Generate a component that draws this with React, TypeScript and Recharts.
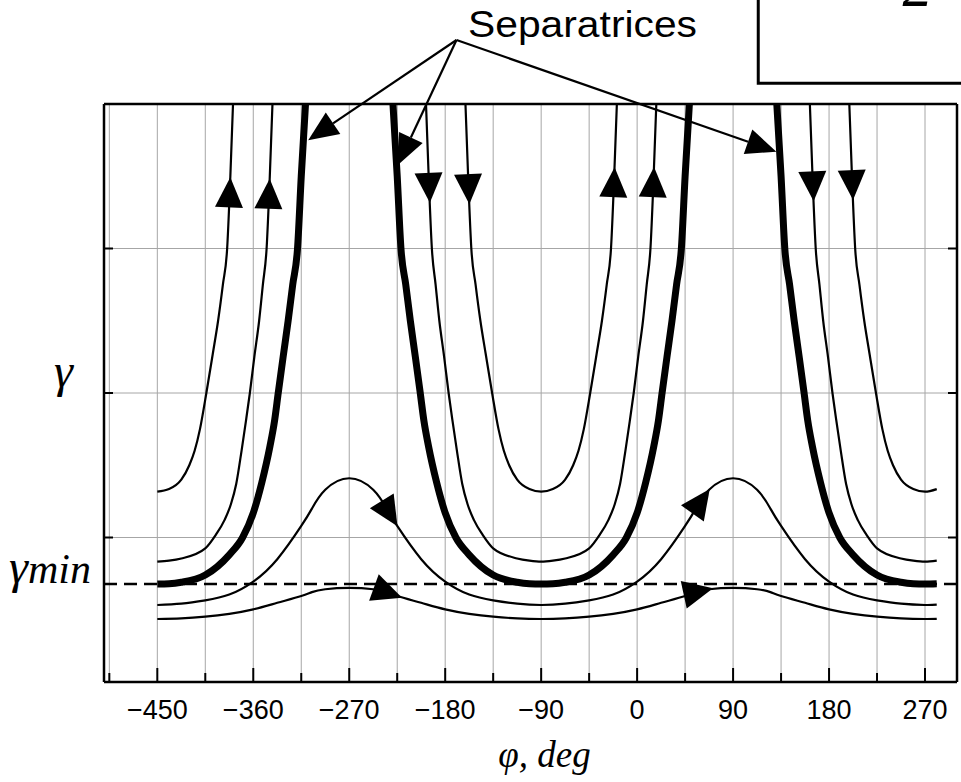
import React from "react";
import {
  ComposedChart,
  Line,
  Scatter,
  XAxis,
  YAxis,
  CartesianGrid,
  ReferenceLine,
  ReferenceArea,
  ReferenceDot,
} from "recharts";

// chart frame (axes take 1px each, so the plot box is 104..957 x 104..682)
const W = 961;
const H = 782;
const MARGIN = { top: 103, right: 3, bottom: 99, left: 103 };
const AXIS_PX = 1;
const X_MIN = -500;
const X_MAX = 300;
const Y_MIN = 0;
const Y_MAX = 4;
const PX_PER_DEG = (W - MARGIN.left - MARGIN.right - 2 * AXIS_PX) / (X_MAX - X_MIN);
const PX_PER_G = (H - MARGIN.top - MARGIN.bottom - 2 * AXIS_PX) / (Y_MAX - Y_MIN);

// axes
const X_TICKS = [-495, -450, -405, -360, -315, -270, -225, -180, -135, -90, -45, 0, 45, 90, 135, 180, 225, 270];
const Y_TICKS = [1, 2, 3];
const GAMMA_MIN = 0.678;

// phase portrait layout (deg)
const PHI_START = -450;
const PHI_END = 281;
const U_CENTERS = [-450, -90, 270];
const HUMP_CENTERS = [-270, 90];

// open trajectories: distance from U centre (deg) -> gamma
const THIN1_D = [0, 11, 22.5, 30, 35, 40, 46, 52, 57, 61.5, 65.5, 68.5, 71];
const THIN1_G = [1.317, 1.335, 1.4, 1.5, 1.6, 1.75, 2.0, 2.27, 2.5, 2.75, 3.0, 3.5, 4.0];
const THIN2_D = [0, 11, 22.5, 45, 55, 63, 69, 74, 79, 83, 86.8, 91, 95.5, 99, 102.5, 105.5, 108];
const THIN2_G = [0.833, 0.84, 0.855, 0.925, 1.02, 1.12, 1.23, 1.37, 1.6, 1.8, 2.0, 2.25, 2.5, 2.75, 3.0, 3.5, 4.0];
// separatrix
const SEP_D = [0, 11, 22.5, 45, 67.5, 80, 90, 98, 105.6, 110, 113.4, 118, 122.7, 127, 131.5, 135, 139];
const SEP_G = [0.678, 0.68, 0.69, 0.74, 0.88, 1.0, 1.17, 1.38, 1.63, 1.81, 2.0, 2.25, 2.5, 2.75, 3.0, 3.5, 4.0];

// closed (oscillating) trajectories: distance from hump centre (deg) -> gamma
const BUMP_D = [0, 22.5, 35, 45, 67.5, 90, 112.5, 135, 157.5, 180];
const B2_G = [1.41, 1.33, 1.2, 1.08, 0.85, 0.695, 0.605, 0.565, 0.542, 0.533];
const B1_G = [0.652, 0.642, 0.622, 0.595, 0.548, 0.503, 0.472, 0.452, 0.44, 0.436];
const B2_END = 0.535;
const B1_END = 0.437;

// flow direction arrows (phi, gamma)
const ARROW_CURVE = ["thin1", "thin2", "thin2", "thin1", "thin1", "thin2", "thin2", "thin1", "b1", "b1", "b2", "b2"];
const ARROW_PHI = [-385.6, -349, -194.3, -158.9, -23.9, 14.6, 164.2, 203.4, -233.3, 57.7, -231.8, 61.1];
const ARROW_G = [3.39, 3.38, 3.42, 3.41, 3.46, 3.46, 3.43, 3.44, 0.625, 0.618, 1.167, 1.246];

// "Separatrices" callout
const CALLOUT_TEXT = { phi: -158.6, g: 4.462 };
const CALLOUT_FROM = { phi: -169.4, g: 4.443 };
const CALLOUT_TO = [
  { phi: -308.5, g: 3.75 },
  { phi: -224.1, g: 3.58 },
  { phi: 130.6, g: 3.67 },
];
const PANEL_BOX = { x1: 113.6, x2: 330, y1: 4.143, y2: 5.5 };
const PANEL_NUM = { phi: 249, g: 4.68, text: "2" };

type Pt = { phi: number; g: number };

const uSegment = (c: number, D: number[], G: number[]): Pt[] => {
  const pts: Pt[] = [];
  for (let i = D.length - 1; i > 0; i--) pts.push({ phi: c - D[i], g: G[i] });
  for (let i = 0; i < D.length; i++) pts.push({ phi: c + D[i], g: G[i] });
  return pts.filter((p) => p.phi >= PHI_START && p.phi <= PHI_END);
};

const bumpCurve = (G: number[], endG: number): Pt[] => {
  const pts: Pt[] = [];
  HUMP_CENTERS.forEach((h) => {
    for (let i = BUMP_D.length - 1; i > 0; i--) pts.push({ phi: h - BUMP_D[i], g: G[i] });
    for (let i = 0; i < BUMP_D.length; i++) pts.push({ phi: h + BUMP_D[i], g: G[i] });
  });
  pts.push({ phi: PHI_END, g: endG });
  const out: Pt[] = [];
  pts.forEach((p) => {
    if (p.phi < PHI_START || p.phi > PHI_END) return;
    if (out.length && out[out.length - 1].phi === p.phi) return;
    out.push(p);
  });
  return out;
};

const CURVES: Record<string, Pt[][]> = {
  thin1: U_CENTERS.map((c) => uSegment(c, THIN1_D, THIN1_G)),
  thin2: U_CENTERS.map((c) => uSegment(c, THIN2_D, THIN2_G)),
  sep: U_CENTERS.map((c) => uSegment(c, SEP_D, SEP_G)),
  b1: [bumpCurve(B1_G, B1_END)],
  b2: [bumpCurve(B2_G, B2_END)],
};

// put each arrow on its curve and point it along increasing phi
const snap = (segs: Pt[][], phi: number, g: number) => {
  const px = (p: Pt) => [p.phi * PX_PER_DEG, -p.g * PX_PER_G];
  const [tx, ty] = [phi * PX_PER_DEG, -g * PX_PER_G];
  let best = { d: Infinity, phi, g, angle: 0 };
  segs.forEach((s) => {
    for (let i = 0; i < s.length - 1; i++) {
      const [ax, ay] = px(s[i]);
      const [bx, by] = px(s[i + 1]);
      const dx = bx - ax;
      const dy = by - ay;
      let t = ((tx - ax) * dx + (ty - ay) * dy) / (dx * dx + dy * dy);
      t = Math.max(0, Math.min(1, t));
      const qx = ax + t * dx;
      const qy = ay + t * dy;
      const d = Math.hypot(qx - tx, qy - ty);
      if (d < best.d) {
        best = {
          d,
          phi: s[i].phi + t * (s[i + 1].phi - s[i].phi),
          g: s[i].g + t * (s[i + 1].g - s[i].g),
          angle: (Math.atan2(dy, dx) * 180) / Math.PI,
        };
      }
    }
  });
  return best;
};

const arrowPoints = ARROW_PHI.map((phi, i) => snap(CURVES[ARROW_CURVE[i]], phi, ARROW_G[i]));

const FlowArrow = (props: any) => {
  const { cx, cy, payload } = props;
  if (cx == null || cy == null) return null;
  return (
    <polygon
      points="15,0 -15,-14 -15,14"
      transform={`translate(${cx},${cy}) rotate(${payload.angle})`}
      fill="#000"
    />
  );
};

const Pointer = (props: any) => {
  const { x1, y1, x2, y2 } = props;
  const a = Math.atan2(y2 - y1, x2 - x1);
  const bx = x2 - 30 * Math.cos(a);
  const by = y2 - 30 * Math.sin(a);
  const nx = -Math.sin(a) * 13;
  const ny = Math.cos(a) * 13;
  return (
    <g>
      <line x1={x1} y1={y1} x2={bx} y2={by} stroke="#000" strokeWidth={2.2} />
      <polygon points={`${x2},${y2} ${bx + nx},${by + ny} ${bx - nx},${by - ny}`} fill="#000" />
    </g>
  );
};

const SANS = "'Liberation Sans', Arial, Helvetica, sans-serif";
const SERIF = "'Liberation Serif', 'Times New Roman', serif";

const BottomTick = (props: any) => {
  const { x, y, payload } = props;
  const v = payload.value;
  const major = v % 90 === 0;
  return (
    <g>
      <line x1={x} x2={x} y1={y} y2={y - (major ? 14 : 9)} stroke="#000" strokeWidth={2} />
      {major && (
        <text x={x} y={y + 37} textAnchor="middle" fontFamily={SANS} fontSize={27} fill="#000">
          {v < 0 ? `\u2212${Math.abs(v)}` : `${v}`}
        </text>
      )}
    </g>
  );
};

const TopTick = (props: any) => {
  const { x, y, payload } = props;
  const major = payload.value % 90 === 0;
  return <line x1={x} x2={x} y1={y} y2={y + (major ? 14 : 9)} stroke="#000" strokeWidth={2} />;
};

const LeftTick = (props: any) => {
  const { x, y, payload } = props;
  return (
    <g>
      <line x1={x} x2={x + 9} y1={y} y2={y} stroke="#000" strokeWidth={2} />
      {payload.value === 2 && (
        <text x={x - 31} y={y - 6} textAnchor="end" fontFamily={SERIF} fontStyle="italic" fontSize={48} fill="#000">
          γ
        </text>
      )}
    </g>
  );
};

const RightTick = (props: any) => {
  const { x, y } = props;
  return <line x1={x} x2={x - 9} y1={y} y2={y} stroke="#000" strokeWidth={2} />;
};

const GammaMinLabel = (props: any) => {
  const vb = props.viewBox || {};
  return (
    <text x={vb.x - 13} y={vb.y - 1} textAnchor="end" fontFamily={SERIF} fontStyle="italic" fontSize={48} fill="#000">
      γ<tspan fontSize={42}>min</tspan>
    </text>
  );
};

const XTitle = (props: any) => {
  const vb = props.viewBox || {};
  return (
    <text
      x={vb.x + vb.width / 2 + 14}
      y={vb.y + 85}
      textAnchor="middle"
      fontFamily={SERIF}
      fontStyle="italic"
      fontSize={37}
      fill="#000"
    >
      φ, deg
    </text>
  );
};

const axisLine = { stroke: "#000", strokeWidth: 2.5 };

export default function App() {
  return (
    <div style={{ position: "absolute", left: 0, top: 0, width: W, height: H, background: "#fff" }}>
      <ComposedChart width={W} height={H} margin={MARGIN}>
        <CartesianGrid stroke="#a6a6a6" strokeWidth={1} />
        <XAxis
          dataKey="phi"
          type="number"
          domain={[X_MIN, X_MAX]}
          allowDataOverflow
          ticks={X_TICKS}
          interval={0}
          height={AXIS_PX}
          tickSize={0}
          tickMargin={0}
          tickLine={false}
          axisLine={axisLine}
          tick={<BottomTick />}
          label={<XTitle />}
        />
        <XAxis
          xAxisId="top"
          orientation="top"
          type="number"
          domain={[X_MIN, X_MAX]}
          allowDataOverflow
          ticks={X_TICKS}
          interval={0}
          height={AXIS_PX}
          tickSize={0}
          tickMargin={0}
          tickLine={false}
          axisLine={axisLine}
          tick={<TopTick />}
        />
        <YAxis
          type="number"
          domain={[Y_MIN, Y_MAX]}
          allowDataOverflow
          ticks={Y_TICKS}
          interval={0}
          width={AXIS_PX}
          tickSize={0}
          tickMargin={0}
          tickLine={false}
          axisLine={axisLine}
          tick={<LeftTick />}
        />
        <YAxis
          yAxisId="r"
          orientation="right"
          type="number"
          domain={[Y_MIN, Y_MAX]}
          allowDataOverflow
          ticks={Y_TICKS}
          interval={0}
          width={AXIS_PX}
          tickSize={0}
          tickMargin={0}
          tickLine={false}
          axisLine={axisLine}
          tick={<RightTick />}
        />

        <ReferenceLine
          y={GAMMA_MIN}
          stroke="#000"
          strokeWidth={2.5}
          strokeDasharray="13 7"
          label={<GammaMinLabel />}
        />

        {CURVES.b1.map((seg, i) => (
          <Line key={`b1-${i}`} data={seg} dataKey="g" type="natural" stroke="#000" strokeWidth={2.2} dot={false} isAnimationActive={false} />
        ))}
        {CURVES.b2.map((seg, i) => (
          <Line key={`b2-${i}`} data={seg} dataKey="g" type="natural" stroke="#000" strokeWidth={2.2} dot={false} isAnimationActive={false} />
        ))}
        {CURVES.thin2.map((seg, i) => (
          <Line key={`t2-${i}`} data={seg} dataKey="g" type="monotone" stroke="#000" strokeWidth={2.2} dot={false} isAnimationActive={false} />
        ))}
        {CURVES.thin1.map((seg, i) => (
          <Line key={`t1-${i}`} data={seg} dataKey="g" type="monotone" stroke="#000" strokeWidth={2.2} dot={false} isAnimationActive={false} />
        ))}
        {CURVES.sep.map((seg, i) => (
          <Line key={`sep-${i}`} data={seg} dataKey="g" type="monotone" stroke="#000" strokeWidth={7} dot={false} isAnimationActive={false} />
        ))}

        <Scatter data={arrowPoints} dataKey="g" shape={(p: any) => <FlowArrow {...p} />} isAnimationActive={false} />

        {CALLOUT_TO.map((t, i) => (
          <ReferenceLine
            key={`call-${i}`}
            segment={[
              { x: CALLOUT_FROM.phi, y: CALLOUT_FROM.g },
              { x: t.phi, y: t.g },
            ]}
            ifOverflow="visible"
            shape={(p: any) => <Pointer {...p} />}
          />
        ))}
        <ReferenceDot
          x={CALLOUT_TEXT.phi}
          y={CALLOUT_TEXT.g}
          ifOverflow="visible"
          shape={(p: any) => (
            <text x={p.cx} y={p.cy} fontFamily={SANS} fontSize={36} textLength={229} lengthAdjust="spacingAndGlyphs" fill="#000">
              Separatrices
            </text>
          )}
        />
        <ReferenceArea
          x1={PANEL_BOX.x1}
          x2={PANEL_BOX.x2}
          y1={PANEL_BOX.y1}
          y2={PANEL_BOX.y2}
          ifOverflow="visible"
          fill="none"
          fillOpacity={0}
          stroke="#000"
          strokeWidth={3}
        />
        <ReferenceDot
          x={PANEL_NUM.phi}
          y={PANEL_NUM.g}
          ifOverflow="visible"
          shape={(p: any) => (
            <text x={p.cx} y={p.cy} fontFamily={SERIF} fontStyle="italic" fontSize={60} fill="#000">
              {PANEL_NUM.text}
            </text>
          )}
        />
      </ComposedChart>
    </div>
  );
}
